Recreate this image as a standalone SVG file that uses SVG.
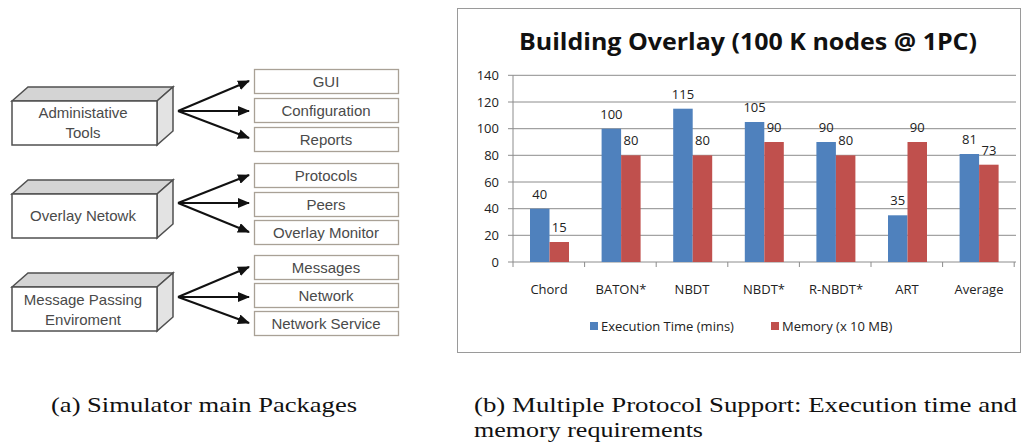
<svg xmlns="http://www.w3.org/2000/svg" width="1022" height="443" viewBox="0 0 1022 443">
<style>
.top{fill:#d4d4d4;stroke:#505050;stroke-width:1.5}
.side{fill:#e3e3e3;stroke:#505050;stroke-width:1.5}
.front{fill:#ffffff;stroke:#505050;stroke-width:1.5}
.pkg{fill:#ffffff;stroke:#a9a196;stroke-width:1.3}
.lt{font-family:"Liberation Sans",Arial,sans-serif;font-size:15px;fill:#4a4a4a;text-anchor:middle}
.arr{stroke:#111;stroke-width:2;fill:none;marker-end:url(#ah)}
.grid{stroke:#8c8c8c;stroke-width:1}
.ct{font-family:"Open Sans","Noto Sans",sans-serif;font-size:13px;fill:#222}
.yl{text-anchor:end}
.mid{text-anchor:middle}
.blue{fill:#4f81bd}
.red{fill:#c0504d}
.cap{font-family:"Liberation Serif","Times New Roman",serif;font-size:21px;fill:#111}
</style>
<defs>
<marker id="ah" viewBox="0 0 12 10" refX="11" refY="5" markerWidth="12" markerHeight="10" markerUnits="userSpaceOnUse" orient="auto">
<path d="M0,0 L12,5 L0,10 z" fill="#111"/>
</marker>
</defs>
<rect width="1022" height="443" fill="#ffffff"/>

<!-- Left diagram: 3D boxes -->
<g id="admin">
<path class="top" d="M12,101 L28,87 L173,87 L157,101 Z"/>
<path class="side" d="M157,101 L173,87 L173,131 L157,145 Z"/>
<rect class="front" x="12" y="101" width="145" height="44"/>
<text class="lt" x="83" y="118">Administative</text>
<text class="lt" x="83" y="138">Tools</text>
</g>
<g id="overlay">
<path class="top" d="M12,194 L28,180 L173,180 L157,194 Z"/>
<path class="side" d="M157,194 L173,180 L173,224 L157,238 Z"/>
<rect class="front" x="12" y="194" width="145" height="44"/>
<text class="lt" x="83" y="221">Overlay Netowk</text>
</g>
<g id="message">
<path class="top" d="M12,287 L28,273 L173,273 L157,287 Z"/>
<path class="side" d="M157,287 L173,273 L173,317 L157,331 Z"/>
<rect class="front" x="12" y="287" width="145" height="44"/>
<text class="lt" x="83" y="305">Message Passing</text>
<text class="lt" x="83" y="325">Enviroment</text>
</g>

<g id="gui"><rect class="pkg" x="254.5" y="69.5" width="144" height="24"/><text class="lt" x="326" y="87">GUI</text></g>
<g id="configuration"><rect class="pkg" x="254.5" y="98.5" width="144" height="24"/><text class="lt" x="326" y="116">Configuration</text></g>
<g id="reports"><rect class="pkg" x="254.5" y="127.5" width="144" height="24"/><text class="lt" x="326" y="145">Reports</text></g>
<g id="protocols"><rect class="pkg" x="254.5" y="163.5" width="144" height="24"/><text class="lt" x="326" y="181">Protocols</text></g>
<g id="peers"><rect class="pkg" x="254.5" y="192.5" width="144" height="24"/><text class="lt" x="326" y="210">Peers</text></g>
<g id="overlay-monitor"><rect class="pkg" x="254.5" y="220.5" width="144" height="24"/><text class="lt" x="326" y="238">Overlay Monitor</text></g>
<g id="messages"><rect class="pkg" x="254.5" y="255.5" width="144" height="24"/><text class="lt" x="326" y="273">Messages</text></g>
<g id="network"><rect class="pkg" x="254.5" y="283.5" width="144" height="24"/><text class="lt" x="326" y="301">Network</text></g>
<g id="network-service"><rect class="pkg" x="254.5" y="311.5" width="144" height="24"/><text class="lt" x="326" y="329">Network Service</text></g>

<g id="connectors">
<line class="arr" x1="178" y1="111" x2="249" y2="81"/>
<line class="arr" x1="178" y1="111" x2="249" y2="111"/>
<line class="arr" x1="178" y1="111" x2="249" y2="138"/>
<line class="arr" x1="178" y1="203" x2="249" y2="175"/>
<line class="arr" x1="178" y1="203" x2="249" y2="203"/>
<line class="arr" x1="178" y1="203" x2="249" y2="232"/>
<line class="arr" x1="178" y1="297" x2="249" y2="267"/>
<line class="arr" x1="178" y1="297" x2="249" y2="297"/>
<line class="arr" x1="178" y1="297" x2="249" y2="323"/>
</g>

<!-- Right: chart -->
<g id="chart">
<rect x="457.5" y="8.5" width="563" height="344" fill="#ffffff" stroke="#9a9a9a" stroke-width="1"/>
<text x="748" y="50" font-family="'Open Sans','Noto Sans',sans-serif" font-size="24" font-weight="bold" fill="#111" text-anchor="middle" textLength="458" lengthAdjust="spacingAndGlyphs">Building Overlay (100 K nodes @ 1PC)</text>
<g id="grid">
<line class="grid" x1="508" y1="75.3" x2="1016" y2="75.3"/>
<line class="grid" x1="508" y1="102" x2="1016" y2="102"/>
<line class="grid" x1="508" y1="128.7" x2="1016" y2="128.7"/>
<line class="grid" x1="508" y1="155.3" x2="1016" y2="155.3"/>
<line class="grid" x1="508" y1="182" x2="1016" y2="182"/>
<line class="grid" x1="508" y1="208.7" x2="1016" y2="208.7"/>
<line class="grid" x1="508" y1="235.3" x2="1016" y2="235.3"/>
<line class="grid" x1="508" y1="262" x2="1016" y2="262"/>
<line class="grid" x1="513" y1="75.3" x2="513" y2="262"/>
<line class="grid" x1="513" y1="262" x2="513" y2="267"/>
<line class="grid" x1="584.6" y1="262" x2="584.6" y2="267"/>
<line class="grid" x1="656.2" y1="262" x2="656.2" y2="267"/>
<line class="grid" x1="727.8" y1="262" x2="727.8" y2="267"/>
<line class="grid" x1="799.4" y1="262" x2="799.4" y2="267"/>
<line class="grid" x1="871" y1="262" x2="871" y2="267"/>
<line class="grid" x1="942.6" y1="262" x2="942.6" y2="267"/>
<line class="grid" x1="1014.2" y1="262" x2="1014.2" y2="267"/>
</g>
<g id="yaxis-labels" class="ct yl">
<text x="499" y="80">140</text>
<text x="499" y="106.5">120</text>
<text x="499" y="133">100</text>
<text x="499" y="160">80</text>
<text x="499" y="186.5">60</text>
<text x="499" y="213">40</text>
<text x="499" y="240">20</text>
<text x="499" y="266.5">0</text>
</g>
<g id="bars">
<rect class="blue" x="530" y="208.7" width="19.5" height="53.3"/>
<rect class="red" x="549.5" y="242" width="19.5" height="20"/>
<rect class="blue" x="601.6" y="128.7" width="19.5" height="133.3"/>
<rect class="red" x="621.1" y="155.3" width="19.5" height="106.7"/>
<rect class="blue" x="673.2" y="108.7" width="19.5" height="153.3"/>
<rect class="red" x="692.7" y="155.3" width="19.5" height="106.7"/>
<rect class="blue" x="744.8" y="122" width="19.5" height="140"/>
<rect class="red" x="764.3" y="142" width="19.5" height="120"/>
<rect class="blue" x="816.4" y="142" width="19.5" height="120"/>
<rect class="red" x="835.9" y="155.3" width="19.5" height="106.7"/>
<rect class="blue" x="888" y="215.3" width="19.5" height="46.7"/>
<rect class="red" x="907.5" y="142" width="19.5" height="120"/>
<rect class="blue" x="959.6" y="154" width="19.5" height="108"/>
<rect class="red" x="979.1" y="164.7" width="19.5" height="97.3"/>
</g>
<g id="value-labels" class="ct mid">
<text x="539.8" y="198.7">40</text>
<text x="559.3" y="232">15</text>
<text x="611.4" y="118.7">100</text>
<text x="630.9" y="145.3">80</text>
<text x="683" y="98.7">115</text>
<text x="702.5" y="145.3">80</text>
<text x="754.6" y="112">105</text>
<text x="774.1" y="132">90</text>
<text x="826.2" y="132">90</text>
<text x="845.7" y="145.3">80</text>
<text x="897.8" y="205.3">35</text>
<text x="917.3" y="132">90</text>
<text x="969.4" y="144">81</text>
<text x="988.9" y="154.7">73</text>
</g>
<g id="xaxis-labels" class="ct mid">
<text x="549" y="294">Chord</text>
<text x="621" y="294">BATON*</text>
<text x="692" y="294">NBDT</text>
<text x="764" y="294">NBDT*</text>
<text x="836" y="294">R-NBDT*</text>
<text x="907" y="294">ART</text>
<text x="979" y="294">Average</text>
</g>
<g id="legend" class="ct">
<rect class="blue" x="590" y="322" width="8" height="8"/>
<text x="601" y="331">Execution Time (mins)</text>
<rect class="red" x="771" y="322" width="8" height="8"/>
<text x="782" y="331">Memory (x 10 MB)</text>
</g>
</g>

<g id="captions" class="cap">
<text x="51" y="412" textLength="306" lengthAdjust="spacingAndGlyphs">(a) Simulator main Packages</text>
<text x="474" y="412" textLength="543" lengthAdjust="spacingAndGlyphs">(b) Multiple Protocol Support: Execution time and</text>
<text x="474" y="437" textLength="229" lengthAdjust="spacingAndGlyphs">memory requirements</text>
</g>
</svg>
